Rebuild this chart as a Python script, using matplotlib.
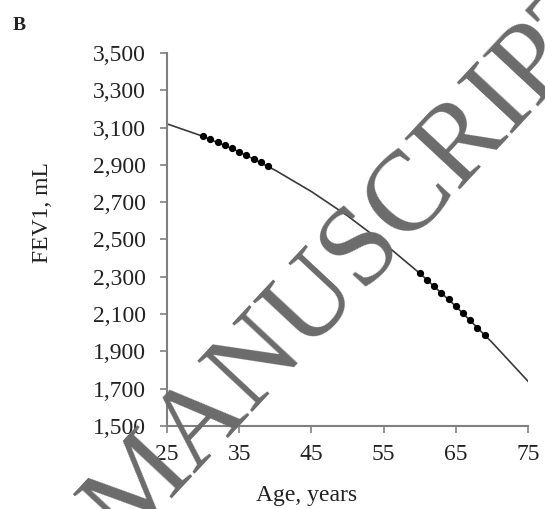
import matplotlib
matplotlib.use("Agg")
import matplotlib.pyplot as plt
from matplotlib.ticker import FuncFormatter

# Fitted curve values (age, FEV1 mL)
curve_age = [25, 30, 35, 40, 45, 50, 55, 60, 65, 70, 75]
curve_fev1 = [3120, 3053, 2970, 2871, 2757, 2627, 2481, 2319, 2142, 1949, 1740]

# Observed points (two age groups)
pts_age = [30, 31, 32, 33, 34, 35, 36, 37, 38, 39,
           60, 61, 62, 63, 64, 65, 66, 67, 68, 69]
pts_fev1 = [3053, 3037, 3021, 3005, 2988, 2970, 2952, 2933, 2914, 2894,
            2319, 2285, 2250, 2215, 2179, 2142, 2105, 2067, 2028, 1989]

xticks = [25, 35, 45, 55, 65, 75]
yticks = [1500, 1700, 1900, 2100, 2300, 2500, 2700, 2900, 3100, 3300, 3500]

plt.rcParams['font.family'] = ['Liberation Serif', 'DejaVu Serif']

fig = plt.figure(figsize=(5.45, 5.09), dpi=100)
ax = fig.add_axes([0.3064, 0.1631, 0.6624, 0.7328])

ax.plot(curve_age, curve_fev1, color='#3a3a3a', lw=1.2, zorder=2)
ax.plot(pts_age, pts_fev1, 'o', color='black', ms=4.2, zorder=3)

ax.set_xlim(25, 75)
ax.set_ylim(1500, 3500)
ax.set_xticks(xticks)
ax.set_yticks(yticks)
ax.yaxis.set_major_formatter(FuncFormatter(lambda v, p: f"{int(v):,}"))

for s in ['top', 'right']:
    ax.spines[s].set_visible(False)
for s in ['left', 'bottom']:
    ax.spines[s].set_color('#808080')
    ax.spines[s].set_linewidth(1.5)
ax.tick_params(axis='both', direction='out', length=5, width=1.2,
               color='#808080', labelsize=17, labelcolor='#222222')
ax.tick_params(axis='x', pad=8)
ax.tick_params(axis='y', pad=10)

fig.text(42/545, 1-213/509, 'FEV1, mL', rotation=90, ha='center', va='center',
         fontsize=17, color='#222222')
fig.text(307/545, 1-495/509, 'Age, years', ha='center', va='center',
         fontsize=17, color='#222222')
fig.text(13/545, 1-26/509, 'B', ha='left', va='center', fontsize=14,
         fontweight='bold', color='#222222')

# watermark
fig.text(355/545, 1-258/509, 'MANUSCRIPT', rotation=47, ha='center', va='center',
         fontsize=82, color='#6b6b6b', zorder=10)

fig.savefig('out.png', dpi=100)
